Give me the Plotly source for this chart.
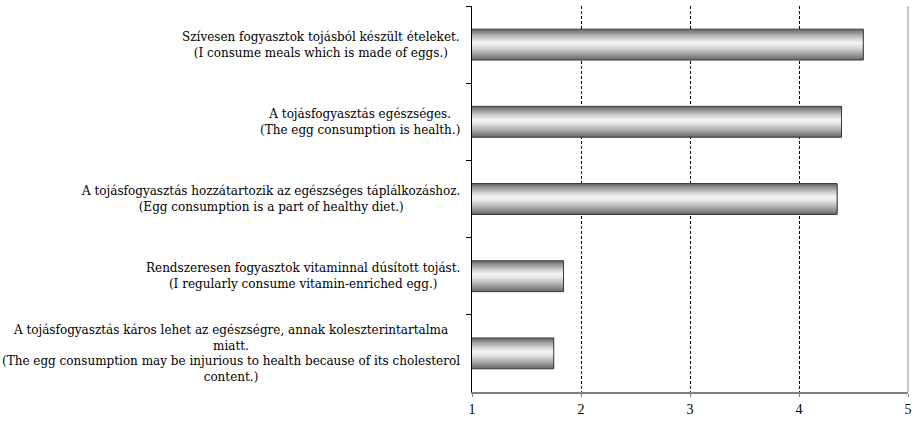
import plotly.graph_objects as go

categories = [
    "Szívesen fogyasztok tojásból készült ételeket.<br>(I consume meals which is made of eggs.)",
    "A tojásfogyasztás egészséges.<br>(The egg consumption is health.)",
    "A tojásfogyasztás hozzátartozik az egészséges táplálkozáshoz.<br>(Egg consumption is a part of healthy diet.)",
    "Rendszeresen fogyasztok vitaminnal dúsított tojást.<br>(I regularly consume vitamin-enriched egg.)",
    "A tojásfogyasztás káros lehet az egészségre, annak koleszterintartalma<br>miatt.<br>(The egg consumption may be injurious to health because of its cholesterol<br>content.)",
]
values = [4.59, 4.39, 4.35, 1.84, 1.75]
x_ticks = [1, 2, 3, 4, 5]

LABEL_FONT = "DejaVu Serif"
TICK_FONT = "Liberation Serif"

fig = go.Figure()

# Cylinder-like shading built from nested overlaid bars
BAR_W = 0.4
LIGHT_FRAC = 0.45
N = 18
dark = (105, 105, 105)
light = (246, 246, 246)
for k in range(N):
    s = 1 - k / N
    t = s ** 1.3
    col = tuple(int(light[i] + (dark[i] - light[i]) * t) for i in range(3))
    w = BAR_W * s
    off = -BAR_W / 2 + LIGHT_FRAC * BAR_W - LIGHT_FRAC * w
    fig.add_trace(go.Bar(
        x=values, y=categories, orientation="h",
        width=w, offset=off,
        marker=dict(color="rgb(%d,%d,%d)" % col, line=dict(width=0)),
        hoverinfo="skip", showlegend=False,
    ))

# outline
fig.add_trace(go.Bar(
    x=values, y=categories, orientation="h",
    width=BAR_W, offset=-BAR_W / 2,
    marker=dict(color="rgba(0,0,0,0)", line=dict(width=1, color="#3a3a3a")),
    showlegend=False,
))

for c in categories:
    fig.add_annotation(
        x=0, xref="paper", y=c, yref="y",
        xanchor="right", yanchor="middle", xshift=-10,
        text=c, showarrow=False, align="center",
        font=dict(family=LABEL_FONT, size=12, color="#000"),
    )

fig.add_shape(type="line", xref="paper", yref="paper", x0=1, x1=1, y0=0, y1=1,
              line=dict(color="#c8c8c8", width=2))

fig.update_layout(
    width=917, height=422,
    margin=dict(l=472, r=5, t=6, b=26),
    paper_bgcolor="white", plot_bgcolor="white",
    barmode="overlay",
    showlegend=False,
    xaxis=dict(
        range=[1, 5], tickvals=x_ticks, ticktext=[str(v) for v in x_ticks],
        showgrid=True, gridcolor="#000", griddash="3px,2px", gridwidth=1,
        showline=True, linecolor="#808080", linewidth=2,
        ticks="outside", ticklen=3, tickcolor="#808080",
        tickfont=dict(family=TICK_FONT, size=14, color="#000"),
        zeroline=False, fixedrange=True,
    ),
    yaxis=dict(
        type="category", autorange="reversed",
        categoryorder="array", categoryarray=categories,
        showticklabels=False, showgrid=False,
        showline=True, linecolor="#000", linewidth=1,
        ticks="outside", tickson="boundaries", ticklen=5, tickcolor="#000",
        zeroline=False, fixedrange=True,
    ),
)

fig.write_html("out.html", config={"displayModeBar": False},
               post_script="document.body.style.margin='0px';")
